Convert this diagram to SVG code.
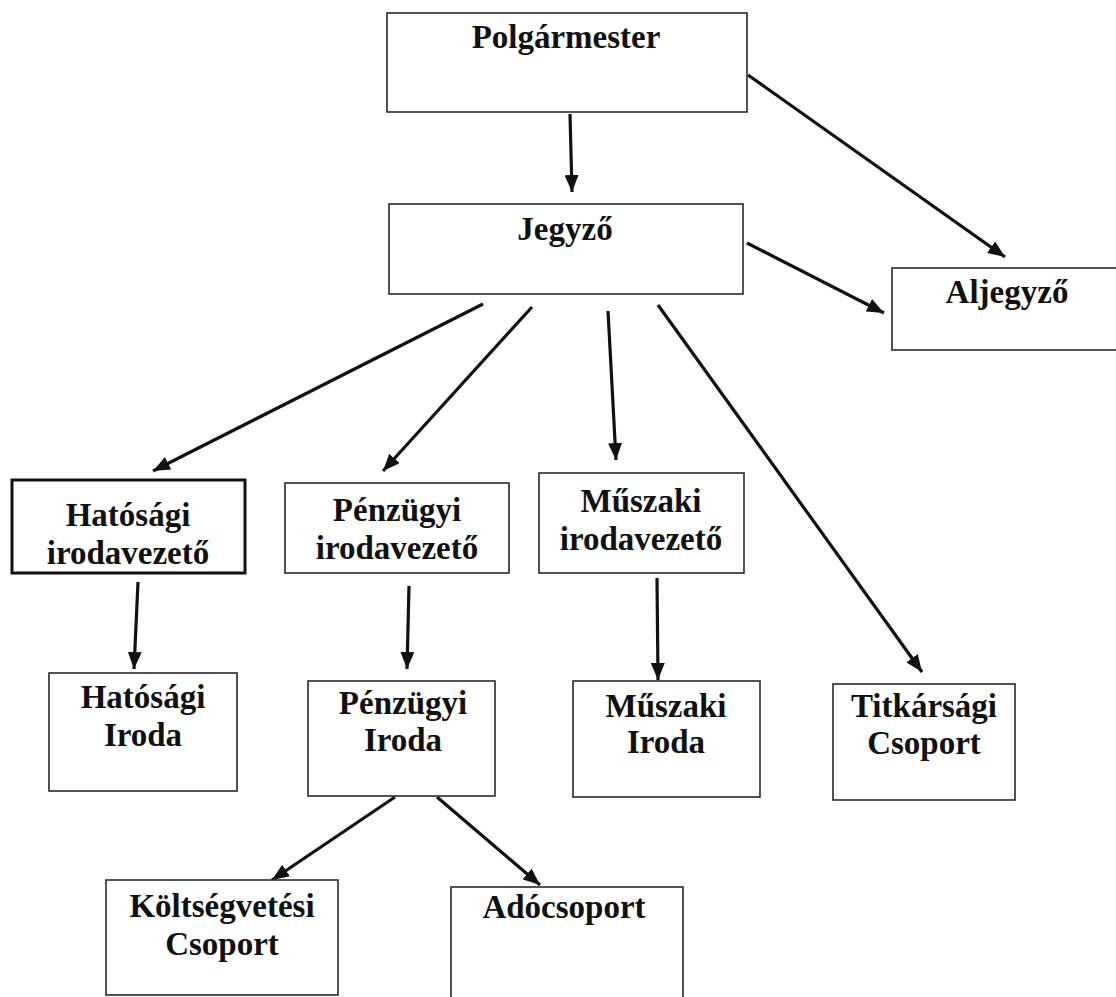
<svg xmlns="http://www.w3.org/2000/svg" width="1116" height="997" viewBox="0 0 1116 997">
<defs>
<style>
.box{fill:#fff;stroke:#2a2a2a;stroke-width:1.6}
.thick{stroke:#111;stroke-width:3}
.t{font-family:"Liberation Serif","Times New Roman",serif;font-weight:bold;font-size:33px;fill:#111;text-anchor:middle}
.c{stroke:#111;stroke-width:3.2;fill:none;marker-end:url(#ah)}
</style>
<marker id="ah" markerUnits="userSpaceOnUse" markerWidth="18" markerHeight="14" refX="17" refY="7" orient="auto">
<path d="M0,0 L17,7 L0,14 z" fill="#111"/>
</marker>
</defs>
<rect width="1116" height="997" fill="#fff"/>
<g id="connectors">
<line class="c" x1="570" y1="114" x2="572" y2="192"/>
<line class="c" x1="748" y1="75" x2="1005" y2="257"/>
<line class="c" x1="747" y1="243" x2="884" y2="313"/>
<line class="c" x1="483" y1="304" x2="153" y2="471"/>
<line class="c" x1="532" y1="307" x2="383" y2="471"/>
<line class="c" x1="608" y1="311" x2="616" y2="460"/>
<line class="c" x1="658" y1="305" x2="922" y2="672"/>
<line class="c" x1="138" y1="582" x2="134" y2="669"/>
<line class="c" x1="409" y1="586" x2="407" y2="669"/>
<line class="c" x1="657" y1="578" x2="658" y2="680"/>
<line class="c" x1="395" y1="797" x2="272" y2="880"/>
<line class="c" x1="437" y1="797" x2="540" y2="885"/>
</g>
<g id="polgarmester">
<rect class="box" x="387" y="13" width="360" height="99"/>
<text class="t" x="566" y="48">Polgármester</text>
</g>
<g id="jegyzo">
<rect class="box" x="389" y="204" width="354" height="90"/>
<text class="t" x="565" y="240">Jegyző</text>
</g>
<g id="aljegyzo">
<rect class="box" x="892" y="268" width="230" height="82"/>
<text class="t" x="1007" y="303">Aljegyző</text>
</g>
<g id="hatosagi-irodavezeto">
<rect class="box thick" x="12" y="480" width="233" height="93"/>
<text class="t" x="128" y="526">Hatósági</text>
<text class="t" x="128" y="564">irodavezető</text>
</g>
<g id="penzugyi-irodavezeto">
<rect class="box" x="285" y="483" width="224" height="90"/>
<text class="t" x="397" y="521">Pénzügyi</text>
<text class="t" x="397" y="559">irodavezető</text>
</g>
<g id="muszaki-irodavezeto">
<rect class="box" x="539" y="473" width="205" height="100"/>
<text class="t" x="641" y="512">Műszaki</text>
<text class="t" x="641" y="550">irodavezető</text>
</g>
<g id="hatosagi-iroda">
<rect class="box" x="49" y="673" width="188" height="118"/>
<text class="t" x="143" y="708">Hatósági</text>
<text class="t" x="143" y="746">Iroda</text>
</g>
<g id="penzugyi-iroda">
<rect class="box" x="308" y="681" width="187" height="115"/>
<text class="t" x="403" y="714">Pénzügyi</text>
<text class="t" x="403" y="751">Iroda</text>
</g>
<g id="muszaki-iroda">
<rect class="box" x="573" y="681" width="187" height="116"/>
<text class="t" x="666" y="717">Műszaki</text>
<text class="t" x="666" y="753">Iroda</text>
</g>
<g id="titkarsagi-csoport">
<rect class="box" x="833" y="684" width="182" height="116"/>
<text class="t" x="924" y="717">Titkársági</text>
<text class="t" x="924" y="754">Csoport</text>
</g>
<g id="koltsegvetesi-csoport">
<rect class="box" x="106" y="880" width="232" height="115"/>
<text class="t" x="222" y="917">Költségvetési</text>
<text class="t" x="222" y="955">Csoport</text>
</g>
<g id="adocsoport">
<rect class="box" x="451" y="887" width="232" height="120"/>
<text class="t" x="564" y="918">Adócsoport</text>
</g>
</svg>
